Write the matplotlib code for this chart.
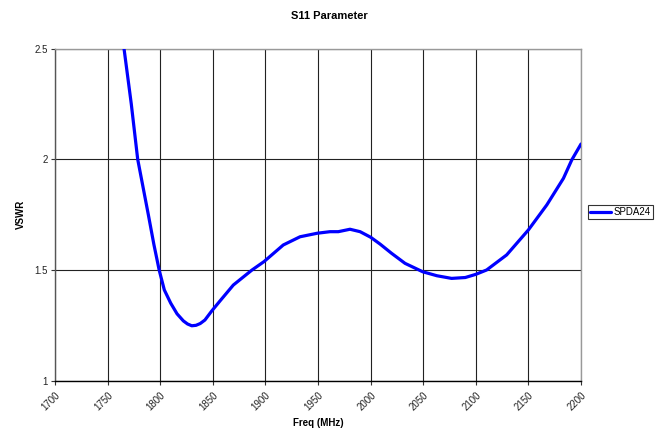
import matplotlib
matplotlib.use('Agg')
import matplotlib.pyplot as plt

# S11 sweep
freq_mhz = [1765.6, 1772.5, 1778.6, 1788.7, 1794.0, 1799.0, 1803.9, 1810.0, 1816.0,
            1822.0, 1826.0, 1830.0, 1834.0, 1838.0, 1842.5, 1849.0, 1856.8, 1869.5,
            1887.0, 1898.7, 1917.0, 1932.9, 1949.3, 1961.4, 1969.3, 1980.4, 1990.0,
            2000.0, 2009.0, 2020.0, 2032.7, 2049.5, 2063.0, 2077.0, 2090.0, 2099.8,
            2110.3, 2129.3, 2150.0, 2167.5, 2183.3, 2191.2, 2200.0]
vswr = [2.50, 2.25, 2.00, 1.75, 1.615, 1.50, 1.41, 1.35, 1.302,
        1.270, 1.256, 1.248, 1.250, 1.258, 1.274, 1.315, 1.360, 1.432,
        1.499, 1.538, 1.613, 1.650, 1.666, 1.673, 1.673, 1.684, 1.673,
        1.648, 1.617, 1.575, 1.530, 1.492, 1.474, 1.462, 1.466, 1.480,
        1.500, 1.568, 1.681, 1.794, 1.914, 1.997, 2.069]

x_ticks = list(range(1700, 2201, 50))
y_ticks = [1, 1.5, 2, 2.5]

plt.rcParams['font.family'] = ['Liberation Sans', 'DejaVu Sans']

fig = plt.figure(figsize=(6.58, 4.30), dpi=100)
ax = fig.add_axes([0.0836, 0.1147, 0.7994, 0.7723])

ax.plot(freq_mhz, vswr, color='#0000ff', lw=2.3, label='SPDA24', zorder=3,
        solid_joinstyle='round', solid_capstyle='round')

ax.set_xlim(1700, 2200)
ax.set_ylim(1, 2.5)
ax.set_xticks(x_ticks)
ax.set_yticks(y_ticks)
ax.set_yticklabels(['1', '1.5', '2', '2.5'])
ax.set_xticklabels([str(t) for t in x_ticks], rotation=45, ha='right',
                   rotation_mode='anchor')
ax.tick_params(labelsize=7, length=3, width=0.8, color='#333333', pad=2,
               labelcolor='#222222')
ax.tick_params(axis='x', pad=4)

ax.grid(True, color='#222222', lw=0.8)
ax.set_axisbelow(True)
for side in ['left', 'bottom', 'right', 'top']:
    ax.spines[side].set_color('#555555')
    ax.spines[side].set_linewidth(1.0)
ax.spines['bottom'].set_color('#000000')
ax.spines['top'].set_color('#999999')
ax.spines['right'].set_color('#999999')

ax.set_xlabel('Freq (MHz)', fontsize=7, fontweight='bold', labelpad=4)
ax.set_ylabel('VSWR', fontsize=7, fontweight='bold', labelpad=6)
fig.suptitle('S11 Parameter', fontsize=8, fontweight='bold', y=0.975)

leg = fig.legend(loc='center left', bbox_to_anchor=(0.893, 0.507), fontsize=7,
                 frameon=True, fancybox=False, edgecolor='#000000',
                 handlelength=2.2, handletextpad=0.2, borderpad=0.25,
                 borderaxespad=0)
leg.get_frame().set_linewidth(0.8)

fig.savefig('out.png', dpi=100)
